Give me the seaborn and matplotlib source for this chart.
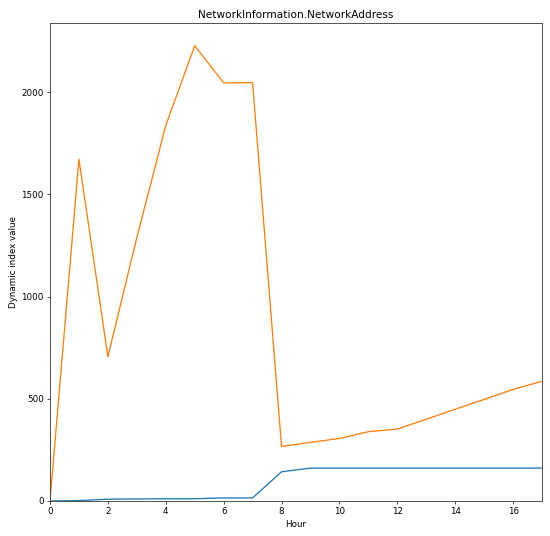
import matplotlib
matplotlib.use("Agg")
import matplotlib.pyplot as plt
import seaborn as sns
import pandas as pd

hours = list(range(18))
series_a = [0, 2, 9, 10, 11, 11, 15, 15, 143, 161, 161, 161, 161, 161, 161, 161, 161, 161]
series_b = [0, 1672, 706, 1289, 1837, 2228, 2046, 2047, 267, 287, 306, 339, 352, 400, 449, 497, 546, 586]
series_names = ["static", "dynamic"]

df = pd.DataFrame({
    "Hour": hours * 2,
    "value": series_a + series_b,
    "series": [series_names[0]] * len(hours) + [series_names[1]] * len(hours),
})

s = 0.63
plt.rcParams["font.family"] = ["DejaVu Sans"]
plt.rcParams["font.size"] = 10 * s
plt.rcParams["axes.linewidth"] = 0.8 * s * 1.3
plt.rcParams["xtick.major.size"] = 3.5 * s
plt.rcParams["ytick.major.size"] = 3.5 * s
plt.rcParams["xtick.major.width"] = 0.8 * s
plt.rcParams["ytick.major.width"] = 0.8 * s
plt.rcParams["xtick.major.pad"] = 3.5 * s
plt.rcParams["ytick.major.pad"] = 3.5 * s
plt.rcParams["axes.labelpad"] = 4 * s
plt.rcParams["axes.titlepad"] = 6 * s
plt.rcParams["axes.edgecolor"] = "#444444"

fig = plt.figure(figsize=(5.5, 5.36), dpi=100)
ax = fig.add_axes([50/550, 1 - 501/536, (542-50)/550, (501-23)/536])
sns.lineplot(data=df, x="Hour", y="value", hue="series",
             palette=["#1f77b4", "#ff7f0e"], legend=False, ax=ax, linewidth=1.5 * s)
ax.set_xlim(0, 17)
ax.set_ylim(0, 2339)
ax.set_xlabel("Hour")
ax.set_ylabel("Dynamic index value")
ax.set_title("NetworkInformation.NetworkAddress")
fig.savefig("out.png", dpi=100)
